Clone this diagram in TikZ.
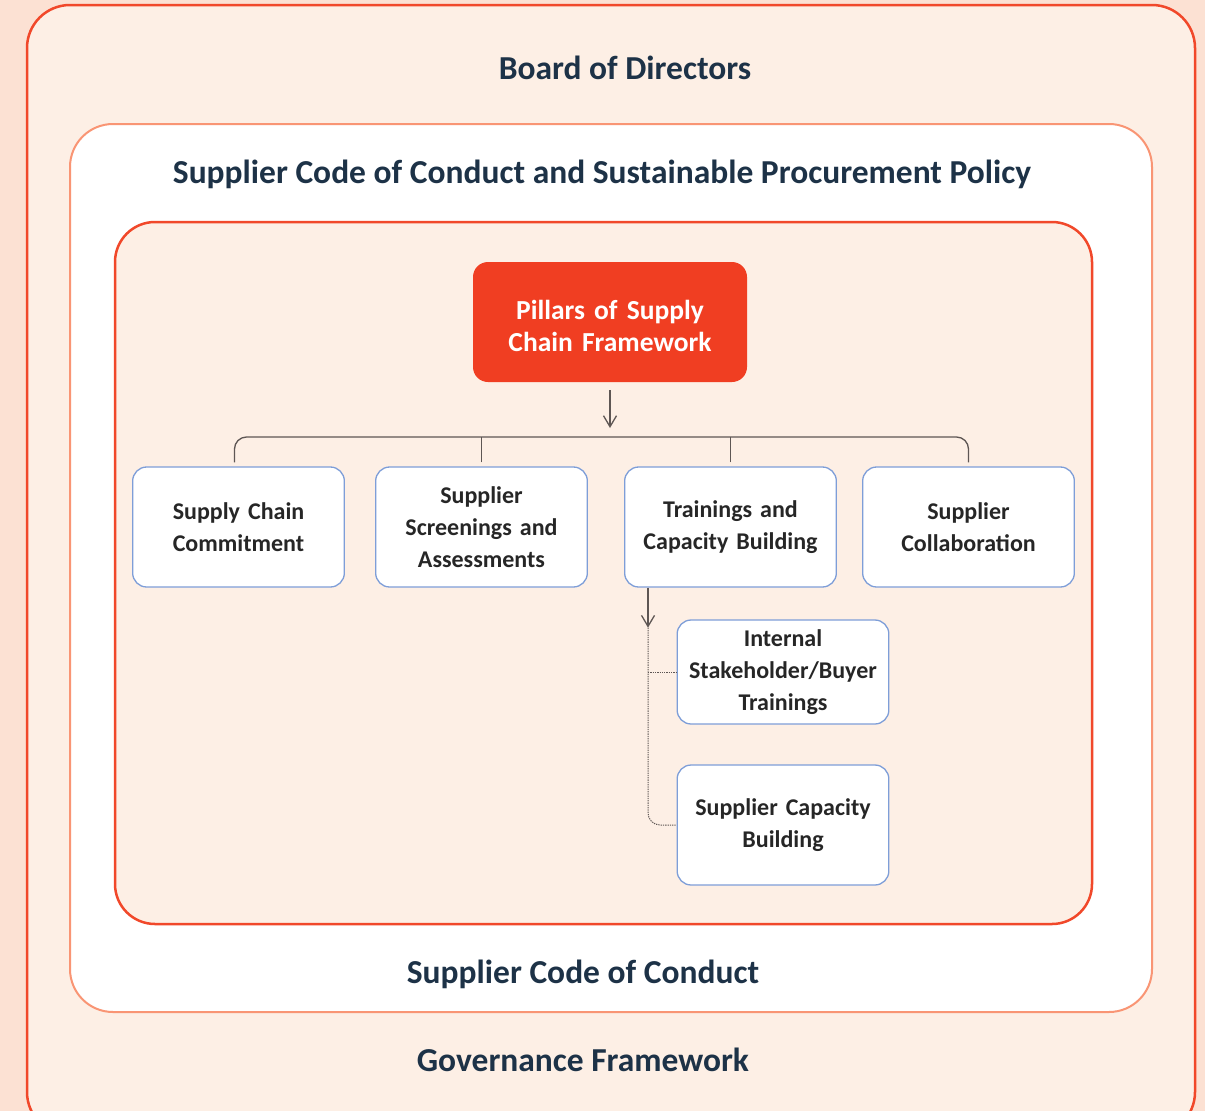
\documentclass[tikz,border=0pt]{standalone}
\usepackage{fontspec}
\setmainfont{Carlito}
\usetikzlibrary{arrows.meta}
\definecolor{pagebg}{HTML}{FCE1D3}
\definecolor{softbg}{HTML}{FDEFE5}
\definecolor{redline}{HTML}{F1482A}
\definecolor{peachline}{HTML}{F99574}
\definecolor{pillarred}{HTML}{F03E22}
\definecolor{boxblue}{HTML}{7E9ED8}
\definecolor{navy}{HTML}{1D3247}
\definecolor{boxtext}{HTML}{262626}
\definecolor{linkgray}{HTML}{5E5654}
\begin{document}
\begin{tikzpicture}[x=1pt, y=-1pt,
    >={Straight Barb[length=11pt,width=13pt]},
    frame/.style ={rounded corners=43pt, line width=2.5pt},
    heading/.style ={anchor=base, text=navy, font=\bfseries\fontsize{33.5}{40}\selectfont},
    pillar/.style ={fill=pillarred, rounded corners=15pt, minimum width=274pt, minimum height=120pt,
                    text width=265pt, align=center, text=white, font=\bfseries\fontsize{27.5}{32}\selectfont,
                    execute at begin node={\rule{0pt}{27pt}}},
    topic/.style ={draw=boxblue, line width=1.3pt, fill=white, rounded corners=14pt,
                   minimum width=211pt, minimum height=120pt, text width=205pt, align=center,
                   text=boxtext, font=\bfseries\fontsize{24}{32}\selectfont},
    link/.style ={draw=linkgray, line width=1.3pt}]
   \useasboundingbox (0,0) rectangle (1205,1111);
   \fill[pagebg] (0,0) rectangle (1205,1111);
   \clip (0,0) rectangle (1205,1111);
   % nested frames
   \draw[frame, draw=redline, fill=softbg] (27,5) rectangle (1195,1135);
   \draw[frame, draw=peachline, line width=2pt, fill=white] (70,124) rectangle (1152,1012);
   \draw[frame, rounded corners=40pt, draw=redline, fill=softbg] (115,222) rectangle (1092,924);
   % frame titles
   \node[heading] (board) at (625,79) {Board of Directors};
   \node[heading] (policy) at (602,183) {Supplier Code of Conduct and Sustainable Procurement Policy};
   \node[heading] (code) at (583,983) {Supplier Code of Conduct};
   \node[heading] (gov) at (583,1071) {Governance Framework};
   % pillars
   \node[pillar] (P) at (610,322) {Pillars of Supply\\Chain Framework};
   \node[topic] (T1) at (238.5,527) {Supply Chain\\Commitment};
   \node[topic] (T2) at (481.5,527) {Supplier\\Screenings and\\Assessments};
   \node[topic] (T3) at (730.5,527) {Trainings and\\Capacity Building};
   \node[topic] (T4) at (968.5,527) {Supplier\\Collaboration};
   \node[topic, minimum width=210pt, minimum height=104pt] (S1) at (783,672) {Internal\\Stakeholder/Buyer\\Trainings};
   \node[topic, minimum width=210pt] (S2) at (783,825) {Supplier Capacity\\Building};
   \coordinate (bus) at (610,437);
   \coordinate (drop) at ([xshift=24pt]T3.south west);
   % connectors
   \draw[link, ->, shorten <=8pt, shorten >=9pt] (P.south) -- (bus);
   \draw[link, rounded corners=12pt] ([yshift=4pt,xshift=-4pt]T1.north) |- (bus) -| ([yshift=4pt]T4.north);
   \draw[link] ([yshift=4pt]T2.north) -- (T2.north |- bus);
   \draw[link] ([yshift=4pt]T3.north) -- (T3.north |- bus);
   \draw[link, ->] (drop) -- ++(0,40) coordinate (tip);
   \draw[link, densely dotted, line width=1pt, rounded corners=12pt] (tip) |- (S2.west);
   \draw[link, densely dotted, line width=1pt] (tip |- S1.west) -- (S1.west);
\end{tikzpicture}
\end{document}
